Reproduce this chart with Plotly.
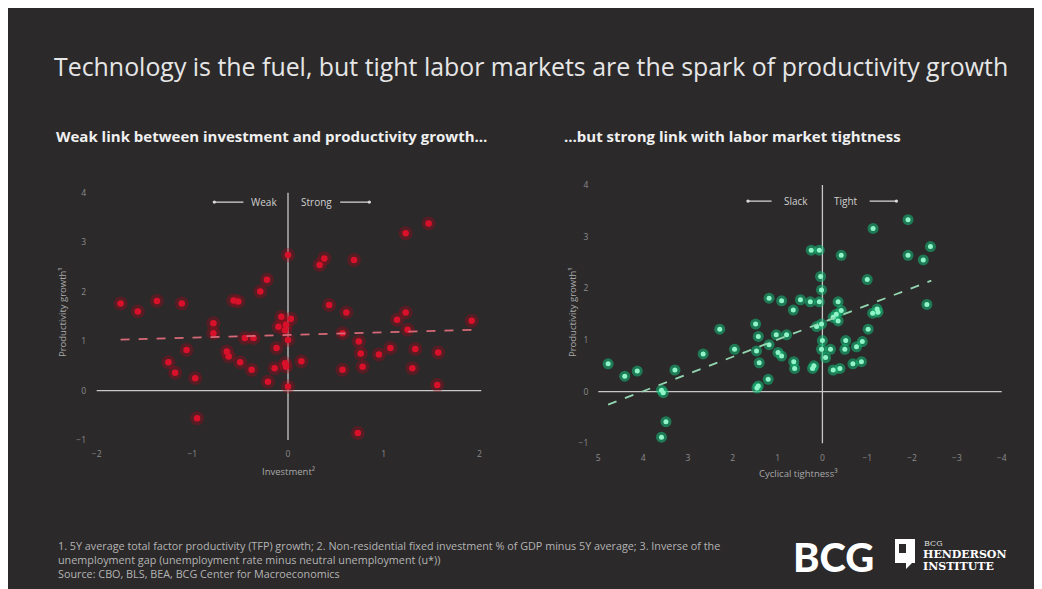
import plotly.graph_objects as go

# ---------------- data ----------------
inv_x = [-1.75, -1.57, -1.37, -1.11, -0.52, -0.57, -0.29, -0.22, 0.00, 0.33, 0.38, 0.69,
         1.23, 1.47, 0.43, 0.61, 1.14, 1.23, 1.92, -0.78, -0.78, -0.07, -0.10, -0.03,
         -0.02, 0.03, 0.00, -0.45, -0.36, -1.06, -0.64, -0.62, -1.25, -1.18, -0.97,
         -0.50, -0.38, -0.21, -0.12, -0.14, -0.03, -0.02, 0.00, 0.14, 0.57, 0.74,
         0.76, 0.78, 0.95, 1.07, 1.33, 1.30, 1.56, 1.57, 1.25, 0.57, -0.95, 0.73]
inv_prod = [1.76, 1.60, 1.81, 1.76, 1.80, 1.82, 2.00, 2.24, 2.74, 2.54, 2.67, 2.64,
            3.18, 3.38, 1.73, 1.58, 1.43, 1.58, 1.41, 1.36, 1.16, 1.49, 1.29, 1.22,
            1.33, 1.45, 1.02, 1.06, 1.06, 0.82, 0.79, 0.69, 0.57, 0.36, 0.25,
            0.57, 0.42, 0.18, 0.86, 0.45, 0.55, 0.48, 0.08, 0.59, 0.42, 0.99,
            0.75, 0.48, 0.73, 0.86, 0.84, 0.45, 0.11, 0.77, 1.23, 1.16, -0.56, -0.86]
inv_trend_x = [-1.75, 1.95]
inv_trend_y = [1.03, 1.23]

tight_x = [4.78, 4.41, 4.13, 3.29, 3.59, 3.55, 3.49, 3.59, 2.66, 2.29, 1.96, 1.49, 1.43,
           1.47, 1.41, 1.43, 1.46, 1.21, 1.19, 0.91, 0.49, 0.27, 0.07, 0.65, 1.03, 0.80,
           1.19, 0.99, 0.91, 0.64, 0.62, 0.25, 0.07, 0.04, 0.02, 0.13, 0.02, 0.00, 0.02,
           0.19, 0.22, -0.07, -0.18, -0.24, -0.39, -0.35, -0.24, -0.35, -0.31, -0.42,
           -0.42, -0.52, -0.50, -0.68, -0.76, -0.87, -0.89, -1.02, -1.00, -1.12, -1.22,
           -1.24, -1.13, -1.91, -1.91, -2.25, -2.41, -2.33]
tight_prod = [0.54, 0.30, 0.40, 0.42, 0.03, -0.02, -0.58, -0.88, 0.73, 1.21, 0.82, 1.31, 1.07,
              0.79, 0.56, 0.11, 0.07, 0.24, 1.81, 1.76, 1.78, 1.74, 1.74, 1.58, 1.10, 1.10,
              0.91, 0.76, 0.69, 0.58, 0.45, 2.74, 2.74, 2.23, 1.97, 1.26, 1.31, 0.99, 0.82,
              0.50, 0.45, 0.66, 0.82, 0.42, 0.45, 1.74, 1.44, 1.37, 1.50, 1.57,
              2.64, 0.99, 0.82, 0.54, 0.87, 0.58, 0.97, 1.21, 2.17, 1.52, 1.60,
              1.54, 3.16, 3.33, 2.64, 2.55, 2.81, 1.69]
tight_trend_x = [4.78, -2.43]
tight_trend_y = [-0.25, 2.15]

left_xticks = [-2, -1, 0, 1, 2]
right_xticks = [5, 4, 3, 2, 1, 0, -1, -2, -3, -4]
yticks = [-1, 0, 1, 2, 3, 4]

title = "Technology is the fuel, but tight labor markets are the spark of productivity growth"
sub_left = "Weak link between investment and productivity growth\u2026"
sub_right = "\u2026but strong link with labor market tightness"
footnotes = [
    "1. 5Y average total factor productivity (TFP) growth; 2. Non-residential fixed investment % of GDP minus 5Y average; 3. Inverse of the",
    "unemployment gap (unemployment rate minus neutral unemployment (u*))",
    "Source: CBO, BLS, BEA, BCG Center for Macroeconomics",
]

# ---------------- layout helpers ----------------
OFF = 8                      # page body margin
W, H = 1042 - OFF, 589 - OFF
BG = "#2b292a"
FONT = "Open Sans"


def px(x):
    return (x - OFF) / W


def py(y):
    return 1 - (y - OFF) / H


fig = go.Figure()

# left panel
fig.add_trace(go.Scatter(x=inv_x, y=inv_prod, mode="markers", xaxis="x", yaxis="y",
                         marker=dict(size=14, color="rgba(170,10,25,0.35)", line=dict(width=0)),
                         hoverinfo="skip"))
fig.add_trace(go.Scatter(x=inv_x, y=inv_prod, mode="markers", xaxis="x", yaxis="y",
                         marker=dict(size=6.5, color="#d8102a", line=dict(width=0))))
fig.add_trace(go.Scatter(x=inv_trend_x, y=inv_trend_y, mode="lines", xaxis="x", yaxis="y",
                         line=dict(color="#d86a78", width=1.8, dash="dash")))

# right panel
fig.add_trace(go.Scatter(x=tight_x, y=tight_prod, mode="markers", xaxis="x2", yaxis="y2",
                         marker=dict(size=11, color="rgba(20,190,120,0.55)", line=dict(width=0)),
                         hoverinfo="skip"))
fig.add_trace(go.Scatter(x=tight_x, y=tight_prod, mode="markers", xaxis="x2", yaxis="y2",
                         marker=dict(size=5, color="#8ff5c8", line=dict(width=0))))
fig.add_trace(go.Scatter(x=tight_trend_x, y=tight_trend_y, mode="lines", xaxis="x2", yaxis="y2",
                         line=dict(color="#93d6b0", width=1.8, dash="dash")))

tickfont = dict(family=FONT, size=8.5, color="#8c8c8c")
axis_common = dict(showgrid=False, zeroline=False, showline=False, ticks="",
                   tickfont=tickfont, fixedrange=True)

fig.update_layout(
    width=W, height=H,
    margin=dict(l=0, r=0, t=0, b=0),
    paper_bgcolor=BG,
    plot_bgcolor="rgba(0,0,0,0)",
    showlegend=False,
    xaxis=dict(domain=[px(87.1), px(488.9)], range=[-2.1, 2.1],
               tickvals=left_xticks, anchor="y", **axis_common),
    yaxis=dict(domain=[py(447.4), py(185.3)], range=[-1.15, 4.15],
               tickvals=yticks, anchor="x", **axis_common),
    xaxis2=dict(domain=[px(589.3), px(1010.7)], range=[5.2, -4.2],
                tickvals=right_xticks, anchor="y2", **axis_common),
    yaxis2=dict(domain=[py(451.1), py(177.3)], range=[-1.15, 4.15],
                tickvals=yticks, anchor="x2", **axis_common),
)

shapes = []
line_style = dict(color="#c8c8c8", width=1.3)
shapes.append(dict(type="line", xref="x", yref="y", x0=-2, x1=2.02, y0=0, y1=0, line=line_style, layer="below"))
shapes.append(dict(type="line", xref="x", yref="y", x0=0, x1=0, y0=-1, y1=4, line=line_style, layer="below"))
shapes.append(dict(type="line", xref="x2", yref="y2", x0=5, x1=-4, y0=0, y1=0, line=line_style, layer="below"))
shapes.append(dict(type="line", xref="x2", yref="y2", x0=0, x1=0, y0=-1, y1=4, line=line_style, layer="below"))

# Henderson icon (simple white glyph)
ix0, ix1, iy0, iy1 = 895, 915, 539, 563
shapes.append(dict(type="path", xref="paper", yref="paper",
                   path=(f"M {px(ix0)},{py(iy0)} L {px(ix1)},{py(iy0)} L {px(ix1)},{py(iy1)} "
                         f"L {px(912)},{py(iy1)} L {px(906)},{py(569)} L {px(906)},{py(iy1)} "
                         f"L {px(ix0)},{py(iy1)} Z"),
                   fillcolor="white", line=dict(width=0)))
shapes.append(dict(type="rect", xref="paper", yref="paper", x0=px(899), x1=px(906),
                   y0=py(553), y1=py(544), fillcolor=BG, line=dict(width=0)))
fig.update_layout(shapes=shapes)

ann = []
ann.append(dict(text=title, x=px(531), y=py(66), xref="paper", yref="paper", showarrow=False,
                xanchor="center", yanchor="middle",
                font=dict(family=FONT, size=24.9, color="#e6e6e6")))
ann.append(dict(text=sub_left, x=px(54), y=py(136), xref="paper", yref="paper", showarrow=False,
                xanchor="left", yanchor="middle",
                font=dict(family=FONT, size=15, color="#f0f0f0", weight=700)))
ann.append(dict(text=sub_right, x=px(562), y=py(136), xref="paper", yref="paper", showarrow=False,
                xanchor="left", yanchor="middle",
                font=dict(family=FONT, size=15, color="#f0f0f0", weight=700)))

axt = dict(family=FONT, size=9.5, color="#a8a8a8")
ann.append(dict(text="Productivity growth\u00b9", x=px(62), y=py(312), xref="paper", yref="paper",
                showarrow=False, textangle=-90, xanchor="center", yanchor="middle", font=axt))
ann.append(dict(text="Productivity growth\u00b9", x=px(572), y=py(312), xref="paper", yref="paper",
                showarrow=False, textangle=-90, xanchor="center", yanchor="middle", font=axt))
ann.append(dict(text="Investment\u00b2", x=px(288), y=py(471), xref="paper", yref="paper",
                showarrow=False, xanchor="center", yanchor="middle", font=axt))
ann.append(dict(text="Cyclical tightness\u00b3", x=px(798), y=py(473), xref="paper", yref="paper",
                showarrow=False, xanchor="center", yanchor="middle", font=axt))

# direction labels and arrows
lab = dict(family=FONT, size=10, color="#d0d0d0")
ann.append(dict(text="Weak", x=-0.09, y=3.81, xref="x", yref="y", showarrow=False,
                xanchor="right", yanchor="middle", font=lab))
ann.append(dict(text="Strong", x=0.12, y=3.81, xref="x", yref="y", showarrow=False,
                xanchor="left", yanchor="middle", font=lab))
ann.append(dict(text="Slack", x=0.28, y=3.69, xref="x2", yref="y2", showarrow=False,
                xanchor="right", yanchor="middle", font=lab))
ann.append(dict(text="Tight", x=-0.22, y=3.69, xref="x2", yref="y2", showarrow=False,
                xanchor="left", yanchor="middle", font=lab))
for (xr, yr, xh, xt, yv) in [("x", "y", -0.77, -0.45, 3.81), ("x", "y", 0.85, 0.53, 3.81),
                             ("x2", "y2", 1.66, 1.10, 3.69), ("x2", "y2", -1.65, -1.02, 3.69)]:
    ann.append(dict(text="", x=xh, y=yv, ax=xt, ay=yv, xref=xr, yref=yr, axref=xr, ayref=yr,
                    showarrow=True, arrowhead=6, arrowsize=0.7, arrowwidth=1.2,
                    arrowcolor="#d8d8d8"))

# footnotes (one block)
ann.append(dict(text="<br>".join(footnotes), x=px(56), y=py(559), xref="paper", yref="paper",
                showarrow=False, xanchor="left", yanchor="middle", align="left",
                font=dict(family=FONT, size=10.8, color="#b4b4b4")))

# logos as text
ann.append(dict(text="BCG", x=px(833), y=py(557), xref="paper", yref="paper", showarrow=False,
                xanchor="center", yanchor="middle",
                font=dict(family="Lato", size=40, color="white", weight=900)))
ann.append(dict(text="BCG", x=px(922), y=py(543), xref="paper", yref="paper", showarrow=False,
                xanchor="left", yanchor="middle",
                font=dict(family="DejaVu Serif", size=8, color="#dddddd")))
ann.append(dict(text="HENDERSON", x=px(921), y=py(554), xref="paper", yref="paper", showarrow=False,
                xanchor="left", yanchor="middle",
                font=dict(family="DejaVu Serif", size=11, color="white", weight=700)))
ann.append(dict(text="INSTITUTE", x=px(921), y=py(566), xref="paper", yref="paper", showarrow=False,
                xanchor="left", yanchor="middle",
                font=dict(family="DejaVu Serif", size=11, color="white", weight=700)))

fig.update_layout(annotations=ann)

fig.write_html("out.html")
